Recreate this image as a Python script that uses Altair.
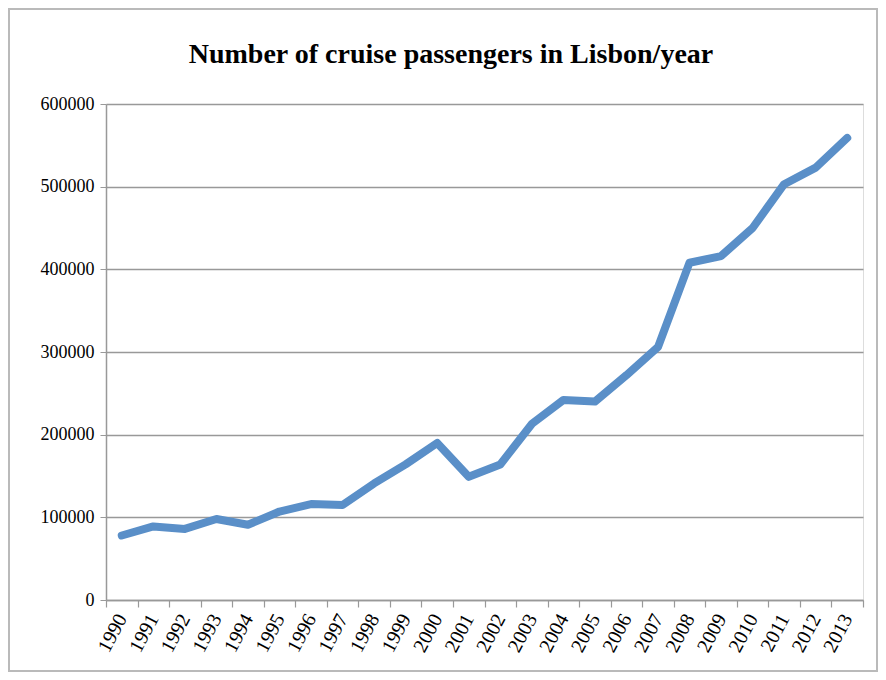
import altair as alt
import pandas as pd

years = [str(y) for y in range(1990, 2014)]
passengers = [78000, 89000, 86000, 98000, 91000, 107000, 116000, 115000, 141000,
              164000, 190000, 149000, 164000, 213000, 242000, 240000, 272000, 306000,
              408000, 416000, 450000, 503000, 523000, 559000]
title_text = ["Number of cruise passengers in Lisbon/year"]

df = pd.DataFrame({"year": years, "passengers": passengers})
tdf = pd.DataFrame({"t": title_text})

FONT = "Liberation Serif"

line = alt.Chart(df).mark_line(color="#5A8FC8", strokeWidth=8, strokeCap="round", strokeJoin="round").encode(
    x=alt.X("year:O", bandPosition=0.5,
            scale=alt.Scale(type="band", paddingInner=0, paddingOuter=0),
            axis=alt.Axis(title=None, labelAngle=-62, labelAlign="right", labelBaseline="middle",
                          labelFont=FONT, labelFontSize=20, labelColor="black",
                          tickBand="extent", tickSize=7, tickColor="#999", domainColor="#999",
                          domainWidth=1.5, tickWidth=1.2, labelPadding=8, grid=False)),
    y=alt.Y("passengers:Q", scale=alt.Scale(domain=[0, 600000], nice=False),
            axis=alt.Axis(title=None, values=[0, 100000, 200000, 300000, 400000, 500000, 600000],
                          format="d", labelFont=FONT, labelFontSize=18, labelColor="black",
                          tickSize=6, tickColor="#999", domainColor="#999", domainWidth=1.5,
                          gridColor="#999", gridWidth=1.5, labelPadding=6)),
)

title = alt.Chart(tdf).mark_text(font=FONT, fontSize=28, fontWeight="bold", color="black",
                                 align="center", baseline="alphabetic", clip=False).encode(
    text="t:N", x=alt.value(345), y=alt.value(-41)
)

border = alt.Chart(df).mark_rect(fill=None, stroke="#bbb", strokeWidth=1.5, clip=False).encode(
    x=alt.value(-97), x2=alt.value(771), y=alt.value(-95), y2=alt.value(567)
)

chart = alt.layer(line, title, border).properties(
    width=757, height=496,
    padding={"left": 98, "top": 96, "right": 15, "bottom": 72},
    autosize=alt.AutoSizeParams(type="none"),
).configure_view(stroke=None).configure(background="white")

chart.save("out.html", embed_options={"renderer": "svg", "actions": False})
